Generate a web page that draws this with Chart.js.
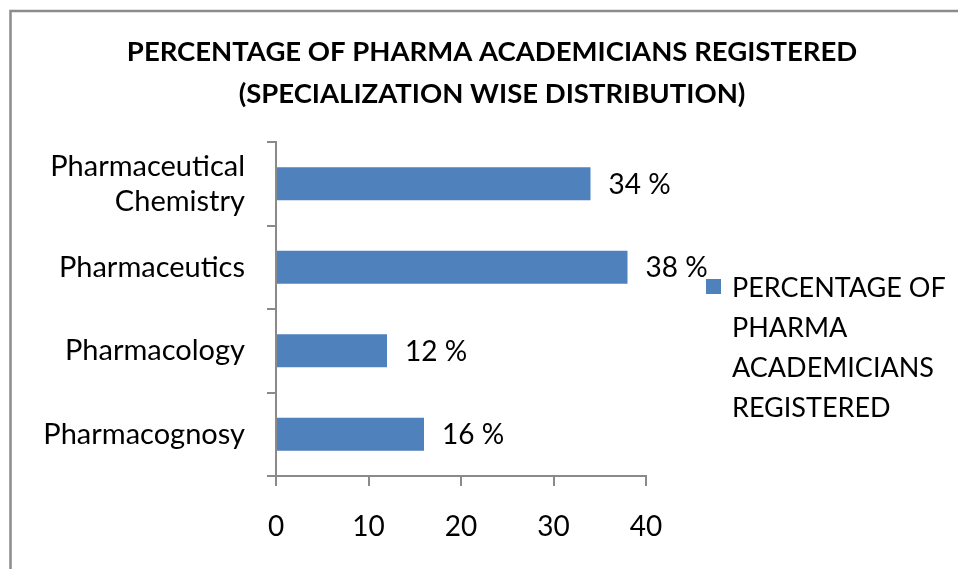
<!DOCTYPE html>
<html>
<head>
<meta charset="utf-8">
<script src="https://cdn.jsdelivr.net/npm/chart.js@4.4.1/dist/chart.umd.min.js"></script>
<style>
  html, body { margin: 0; padding: 0; background: #fff; }
  #wrap { width: 958px; height: 569px; position: relative; }
</style>
</head>
<body>
<div id="wrap"><canvas id="c" width="958" height="569"></canvas></div>
<script>
const titleLines = ['PERCENTAGE OF PHARMA ACADEMICIANS REGISTERED', '(SPECIALIZATION WISE DISTRIBUTION)'];
const categories = [['Pharmaceutical', 'Chemistry'], 'Pharmaceutics', 'Pharmacology', 'Pharmacognosy'];
const values = [34, 38, 12, 16];
const seriesName = 'PERCENTAGE OF PHARMA ACADEMICIANS REGISTERED';
const legendLines = ['PERCENTAGE OF', 'PHARMA', 'ACADEMICIANS', 'REGISTERED'];
const xTicks = [0, 10, 20, 30, 40];

const FONT = 'Lato';
const BAR = '#4F81BD';
const AXIS = '#8a8a8a';

const frame = {
  id: 'frame',
  beforeDraw(chart) {
    const ctx = chart.ctx;
    ctx.save();
    ctx.fillStyle = '#fff';
    ctx.fillRect(0, 0, chart.width, chart.height);
    ctx.strokeStyle = '#8c8c8c';
    ctx.beginPath();
    ctx.moveTo(chart.width, 11);
    ctx.lineTo(10.5, 11);
    ctx.lineTo(10.5, chart.height);
    ctx.lineWidth = 2.5;
    ctx.stroke();
    ctx.restore();
  }
};

const valueLabels = {
  id: 'valueLabels',
  afterDatasetsDraw(chart) {
    const ctx = chart.ctx;
    const meta = chart.getDatasetMeta(0);
    ctx.save();
    ctx.font = '28px ' + FONT;
    ctx.fillStyle = '#000';
    ctx.textAlign = 'left';
    ctx.textBaseline = 'middle';
    meta.data.forEach((bar, i) => {
      ctx.fillText(values[i] + ' %', bar.x + 18, bar.y + 1);
    });
    ctx.restore();
  }
};

const sideLegend = {
  id: 'sideLegend',
  afterDraw(chart) {
    const ctx = chart.ctx;
    const a = chart.chartArea;
    const x0 = a.right + 60;
    const y0 = a.top + 146;
    ctx.save();
    ctx.fillStyle = chart.data.datasets[0].backgroundColor;
    ctx.fillRect(x0, y0 - 9, 15, 15);
    ctx.font = '27px ' + FONT;
    ctx.fillStyle = '#000';
    ctx.textAlign = 'left';
    ctx.textBaseline = 'middle';
    legendLines.forEach((t, i) => ctx.fillText(t, x0 + 26, y0 + i * 40));
    ctx.restore();
  }
};

new Chart(document.getElementById('c'), {
  type: 'bar',
  data: {
    labels: categories,
    datasets: [{
      label: seriesName,
      data: values,
      backgroundColor: BAR,
      borderWidth: 0,
      barPercentage: 0.395,
      categoryPercentage: 1.0,
      xAxisID: 'x',
      yAxisID: 'y'
    }]
  },
  options: {
    indexAxis: 'y',
    responsive: false,
    animation: false,
    devicePixelRatio: 1,
    layout: { padding: { left: 26, right: 0, top: 0, bottom: 0 } },
    plugins: {
      legend: { display: false },
      tooltip: { enabled: false },
      title: {
        display: true,
        text: titleLines,
        color: '#000',
        font: { family: FONT, weight: 'bold', size: 27.5, lineHeight: '42px' },
        padding: { top: 31, bottom: 27 }
      }
    },
    scales: {
      x: {
        type: 'linear',
        position: 'bottom',
        min: 0,
        max: 40,
        afterBuildTicks(s) { s.ticks = xTicks.map(v => ({ value: v })); },
        afterFit(s) { s.height = 93; },
        grid: { display: true, drawOnChartArea: false, drawTicks: true, tickLength: 10, color: AXIS, lineWidth: 2 },
        border: { display: true, color: AXIS, width: 2 },
        ticks: { color: '#000', font: { family: FONT, size: 28 }, padding: 24, maxRotation: 0 }
      },
      y: {
        type: 'category',
        position: 'left',
        offset: true,
        afterFit(s) { s.width = 250; },
        grid: { display: true, offset: true, drawOnChartArea: false, drawTicks: true, tickLength: 9, color: AXIS, lineWidth: 2 },
        border: { display: true, color: AXIS, width: 2 },
        ticks: { color: '#000', font: { family: FONT, size: 29, lineHeight: 1.2 }, padding: 22, autoSkip: false }
      },
      yr: {
        type: 'linear',
        position: 'right',
        display: true,
        afterFit(s) { s.width = 312; },
        grid: { display: false, drawTicks: false },
        border: { display: false },
        ticks: { display: false }
      }
    }
  },
  plugins: [frame, valueLabels, sideLegend]
});
</script>
</body>
</html>
